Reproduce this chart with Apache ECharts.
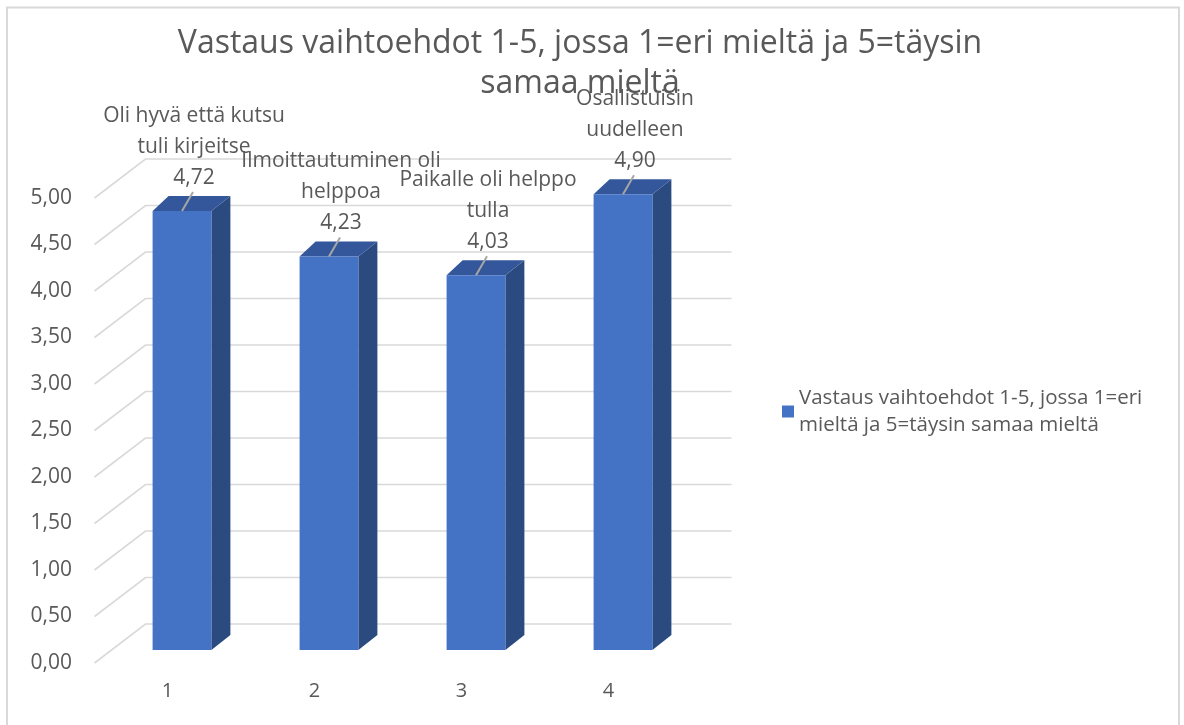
<!DOCTYPE html>
<html>
<head>
<meta charset="utf-8">
<script src="https://cdn.jsdelivr.net/npm/echarts@6/dist/echarts.min.js"></script>
<style>
  html, body { margin: 0; padding: 0; background: #fff; }
  #main { width: 1184px; height: 725px; }
</style>
</head>
<body>
<div id="main"></div>
<script>
var seriesName = 'Vastaus vaihtoehdot 1-5, jossa 1=eri mieltä ja 5=täysin samaa mieltä';
var categories = ['1', '2', '3', '4'];
var values = [4.72, 4.23, 4.03, 4.90];
var labelNames = ['Oli hyvä että kutsu\ntuli kirjeitse', 'Ilmoittautuminen oli\nhelppoa', 'Paikalle oli helppo\ntulla', 'Osallistuisin\nuudelleen'];
var yTicks = [0, 0.5, 1, 1.5, 2, 2.5, 3, 3.5, 4, 4.5, 5];

var FONT = '"Open Sans", "Noto Sans", sans-serif';
var GRAY = '#595959';

function fmt(v) {
	return v.toFixed(2).replace('.', ',');
}

var myChart = echarts.init(document.getElementById('main'));

// diagonal side-wall line + horizontal back-wall line for every tick
function renderGrid(params, api) {
	var cs = params.coordSys;
	var y = api.coord([0, api.value(1)])[1];
	return {
		type: 'polyline',
		shape: {points: [[cs.x - 14, y + 13], [cs.x + 37, y - 26], [cs.x + cs.width + 35, y - 26]]},
		style: {stroke: '#d9d9d9', lineWidth: 1.6, fill: null}
	};
}

// fake 3d column: front, side, top + leader line and label
function renderBar(params, api) {
	var i = api.value(0), v = api.value(1);
	var top = api.coord([i, v]);
	var base = api.coord([i, 0]);
	var w = api.size([1, 0])[0] * 0.4;
	var x0 = top[0] - w / 2, x1 = top[0] + w / 2;
	var dx = 19, dy = -15;
	return {
		type: 'group',
		children: [
			{type: 'polygon', shape: {points: [[x1, top[1]], [x1 + dx, top[1] + dy], [x1 + dx, base[1] + dy], [x1, base[1]]]},
				style: {fill: '#2B4A80'}},
			{type: 'polygon', shape: {points: [[x0, top[1]], [x0 + dx - 3, top[1] + dy], [x1 + dx, top[1] + dy], [x1, top[1]]]},
				style: {fill: '#33579A'}},
			{type: 'rect', shape: {x: x0, y: top[1], width: w, height: base[1] - top[1]},
				style: {fill: '#4472C4'}},
			{type: 'line', shape: {x1: top[0], y1: top[1], x2: top[0] + 11, y2: top[1] - 19},
				style: {stroke: '#a6a6a6', lineWidth: 2}},
			{type: 'text', x: top[0] + 12, y: top[1] - 18,
				style: {text: labelNames[i] + '\n' + fmt(v), align: 'center', verticalAlign: 'bottom',
					font: '21px ' + FONT, lineHeight: 31, fill: GRAY}}
		]
	};
}

var option = {
	animation: false,
	title: {
		text: 'Vastaus vaihtoehdot 1-5, jossa 1=eri mieltä ja 5=täysin\nsamaa mieltä',
		left: 575,
		top: 19,
		textAlign: 'center',
		textStyle: {fontFamily: FONT, fontSize: 32, fontWeight: 'normal', color: GRAY, lineHeight: 40}
	},
	legend: {
		data: [seriesName],
		left: 782,
		top: 371,
		padding: 0,
		itemWidth: 12,
		itemHeight: 12,
		icon: 'rect',
		formatter: function(name) { return name.replace('1=eri ', '1=eri\n'); },
		textStyle: {fontFamily: FONT, fontSize: 20.5, color: GRAY, lineHeight: 27, padding: [27, 0, 0, 0]}
	},
	graphic: [{
		type: 'rect',
		shape: {x: 7, y: 7.5, width: 1172, height: 730},
		style: {fill: null, stroke: '#d9d9d9', lineWidth: 2},
		silent: true
	}],
	grid: [
		{left: 108.5, right: 487.5, top: 185, bottom: 75},
		{left: 80, width: 10, top: 198, bottom: 62}
	],
	xAxis: [
		{type: 'category', data: categories, gridIndex: 0,
			axisLine: {show: false}, axisTick: {show: false},
			axisLabel: {margin: 31, fontFamily: FONT, fontSize: 20, color: GRAY, padding: [0, 29, 0, 0]}},
		{type: 'category', data: categories, gridIndex: 1, show: false}
	],
	yAxis: [
		{type: 'value', min: 0, max: 5, interval: 0.5, gridIndex: 0, show: false},
		{type: 'value', min: 0, max: 5, interval: 0.5, gridIndex: 1,
			axisLine: {show: false}, axisTick: {show: false}, splitLine: {show: false},
			axisLabel: {margin: 8, fontFamily: FONT, fontSize: 21, color: GRAY, formatter: fmt}}
	],
	series: [
		{
			type: 'custom',
			name: 'grid',
			silent: true,
			xAxisIndex: 0, yAxisIndex: 0,
			renderItem: renderGrid,
			encode: {x: 0, y: 1},
			data: yTicks.map(function(t) { return [0, t]; }),
			z: 1
		},
		{
			type: 'custom',
			name: seriesName,
			xAxisIndex: 0, yAxisIndex: 0,
			itemStyle: {color: '#4472C4'},
			renderItem: renderBar,
			encode: {x: 0, y: 1},
			data: values.map(function(v, i) { return [i, v]; }),
			z: 2
		}
	]
};
myChart.setOption(option);
</script>
</body>
</html>
